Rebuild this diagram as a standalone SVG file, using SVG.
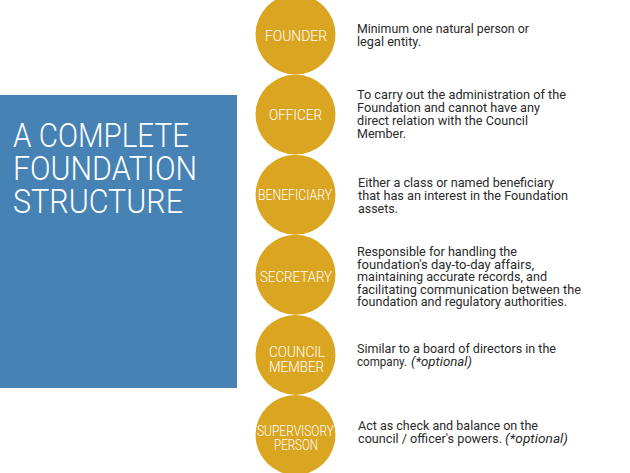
<svg xmlns="http://www.w3.org/2000/svg" width="630" height="473" viewBox="0 0 630 473">
<style>
.circ{fill:#DAA520}
.lbl{font-family:Roboto,"Liberation Sans",sans-serif;font-size:15.5px;font-weight:300;fill:#ffffff}
.lbl2{font-family:Roboto,"Liberation Sans",sans-serif;font-size:14px;font-weight:300;fill:#ffffff}
.desc{font-family:Roboto,"Liberation Sans",sans-serif;font-size:13px;fill:#2a2a2a}
.it{font-style:italic}
.title{font-family:Roboto,"Liberation Sans",sans-serif;font-size:34px;font-weight:300;fill:#ffffff}
</style>
<rect width="630" height="473" fill="#ffffff"/>
<g id="title">
<rect x="0" y="95" width="237" height="293" fill="#4682B4"/>
<text class="title" x="13" y="147" textLength="176" lengthAdjust="spacingAndGlyphs">A COMPLETE</text>
<text class="title" x="13" y="180" textLength="184" lengthAdjust="spacingAndGlyphs">FOUNDATION</text>
<text class="title" x="13" y="213" textLength="170" lengthAdjust="spacingAndGlyphs">STRUCTURE</text>
</g>
<g id="connectors"></g>
<g id="founder">
<circle class="circ" cx="295.5" cy="34.5" r="40"/>
<text class="lbl" x="265" y="41" textLength="62" lengthAdjust="spacingAndGlyphs">FOUNDER</text>
<text class="desc" x="357" y="33" textLength="172" lengthAdjust="spacingAndGlyphs">Minimum one natural person or</text>
<text class="desc" x="357" y="46" textLength="64" lengthAdjust="spacingAndGlyphs">legal entity.</text>
</g>
<g id="officer">
<circle class="circ" cx="295.5" cy="114.6" r="40"/>
<text class="lbl" x="269" y="119.5" textLength="53" lengthAdjust="spacingAndGlyphs">OFFICER</text>
<text class="desc" x="357" y="99" textLength="209" lengthAdjust="spacingAndGlyphs">To carry out the administration of the</text>
<text class="desc" x="357" y="112" textLength="183" lengthAdjust="spacingAndGlyphs">Foundation and cannot have any</text>
<text class="desc" x="357" y="125" textLength="171" lengthAdjust="spacingAndGlyphs">direct relation with the Council</text>
<text class="desc" x="357" y="138" textLength="49" lengthAdjust="spacingAndGlyphs">Member.</text>
</g>
<g id="beneficiary">
<circle class="circ" cx="295.5" cy="194.7" r="40"/>
<text class="lbl" x="258" y="200" textLength="74" lengthAdjust="spacingAndGlyphs">BENEFICIARY</text>
<text class="desc" x="358" y="187" textLength="196" lengthAdjust="spacingAndGlyphs">Either a class or named beneficiary</text>
<text class="desc" x="358" y="200" textLength="210" lengthAdjust="spacingAndGlyphs">that has an interest in the Foundation</text>
<text class="desc" x="358" y="212.5" textLength="40" lengthAdjust="spacingAndGlyphs">assets.</text>
</g>
<g id="secretary">
<circle class="circ" cx="295.5" cy="274.8" r="40"/>
<text class="lbl" x="260" y="282" textLength="72" lengthAdjust="spacingAndGlyphs">SECRETARY</text>
<text class="desc" x="357" y="256" textLength="160" lengthAdjust="spacingAndGlyphs">Responsible for handling the</text>
<text class="desc" x="357" y="268.5" textLength="177" lengthAdjust="spacingAndGlyphs">foundation's day-to-day affairs,</text>
<text class="desc" x="357" y="281" textLength="190" lengthAdjust="spacingAndGlyphs">maintaining accurate records, and</text>
<text class="desc" x="357" y="293.5" textLength="224" lengthAdjust="spacingAndGlyphs">facilitating communication between the</text>
<text class="desc" x="357" y="306" textLength="210" lengthAdjust="spacingAndGlyphs">foundation and regulatory authorities.</text>
</g>
<g id="council-member">
<circle class="circ" cx="295.5" cy="354.9" r="40"/>
<text class="lbl" x="269" y="357" textLength="56" lengthAdjust="spacingAndGlyphs">COUNCIL</text>
<text class="lbl" x="269" y="371.5" textLength="55" lengthAdjust="spacingAndGlyphs">MEMBER</text>
<text class="desc" x="357" y="353" textLength="199" lengthAdjust="spacingAndGlyphs">Similar to a board of directors in the</text>
<text class="desc" x="357" y="366" textLength="50" lengthAdjust="spacingAndGlyphs">company.</text>
<text class="desc it" x="411" y="366" textLength="61" lengthAdjust="spacingAndGlyphs">(*optional)</text>
</g>
<g id="supervisory-person">
<circle class="circ" cx="295.5" cy="435" r="40"/>
<text class="lbl2" x="257" y="436" textLength="77" lengthAdjust="spacingAndGlyphs">SUPERVISORY</text>
<text class="lbl2" x="274" y="450" textLength="44" lengthAdjust="spacingAndGlyphs">PERSON</text>
<text class="desc" x="358" y="430" textLength="180" lengthAdjust="spacingAndGlyphs">Act as check and balance on the</text>
<text class="desc" x="358" y="443" textLength="144" lengthAdjust="spacingAndGlyphs">council / officer's powers.</text>
<text class="desc it" x="505" y="443" textLength="63" lengthAdjust="spacingAndGlyphs">(*optional)</text>
</g>
</svg>
